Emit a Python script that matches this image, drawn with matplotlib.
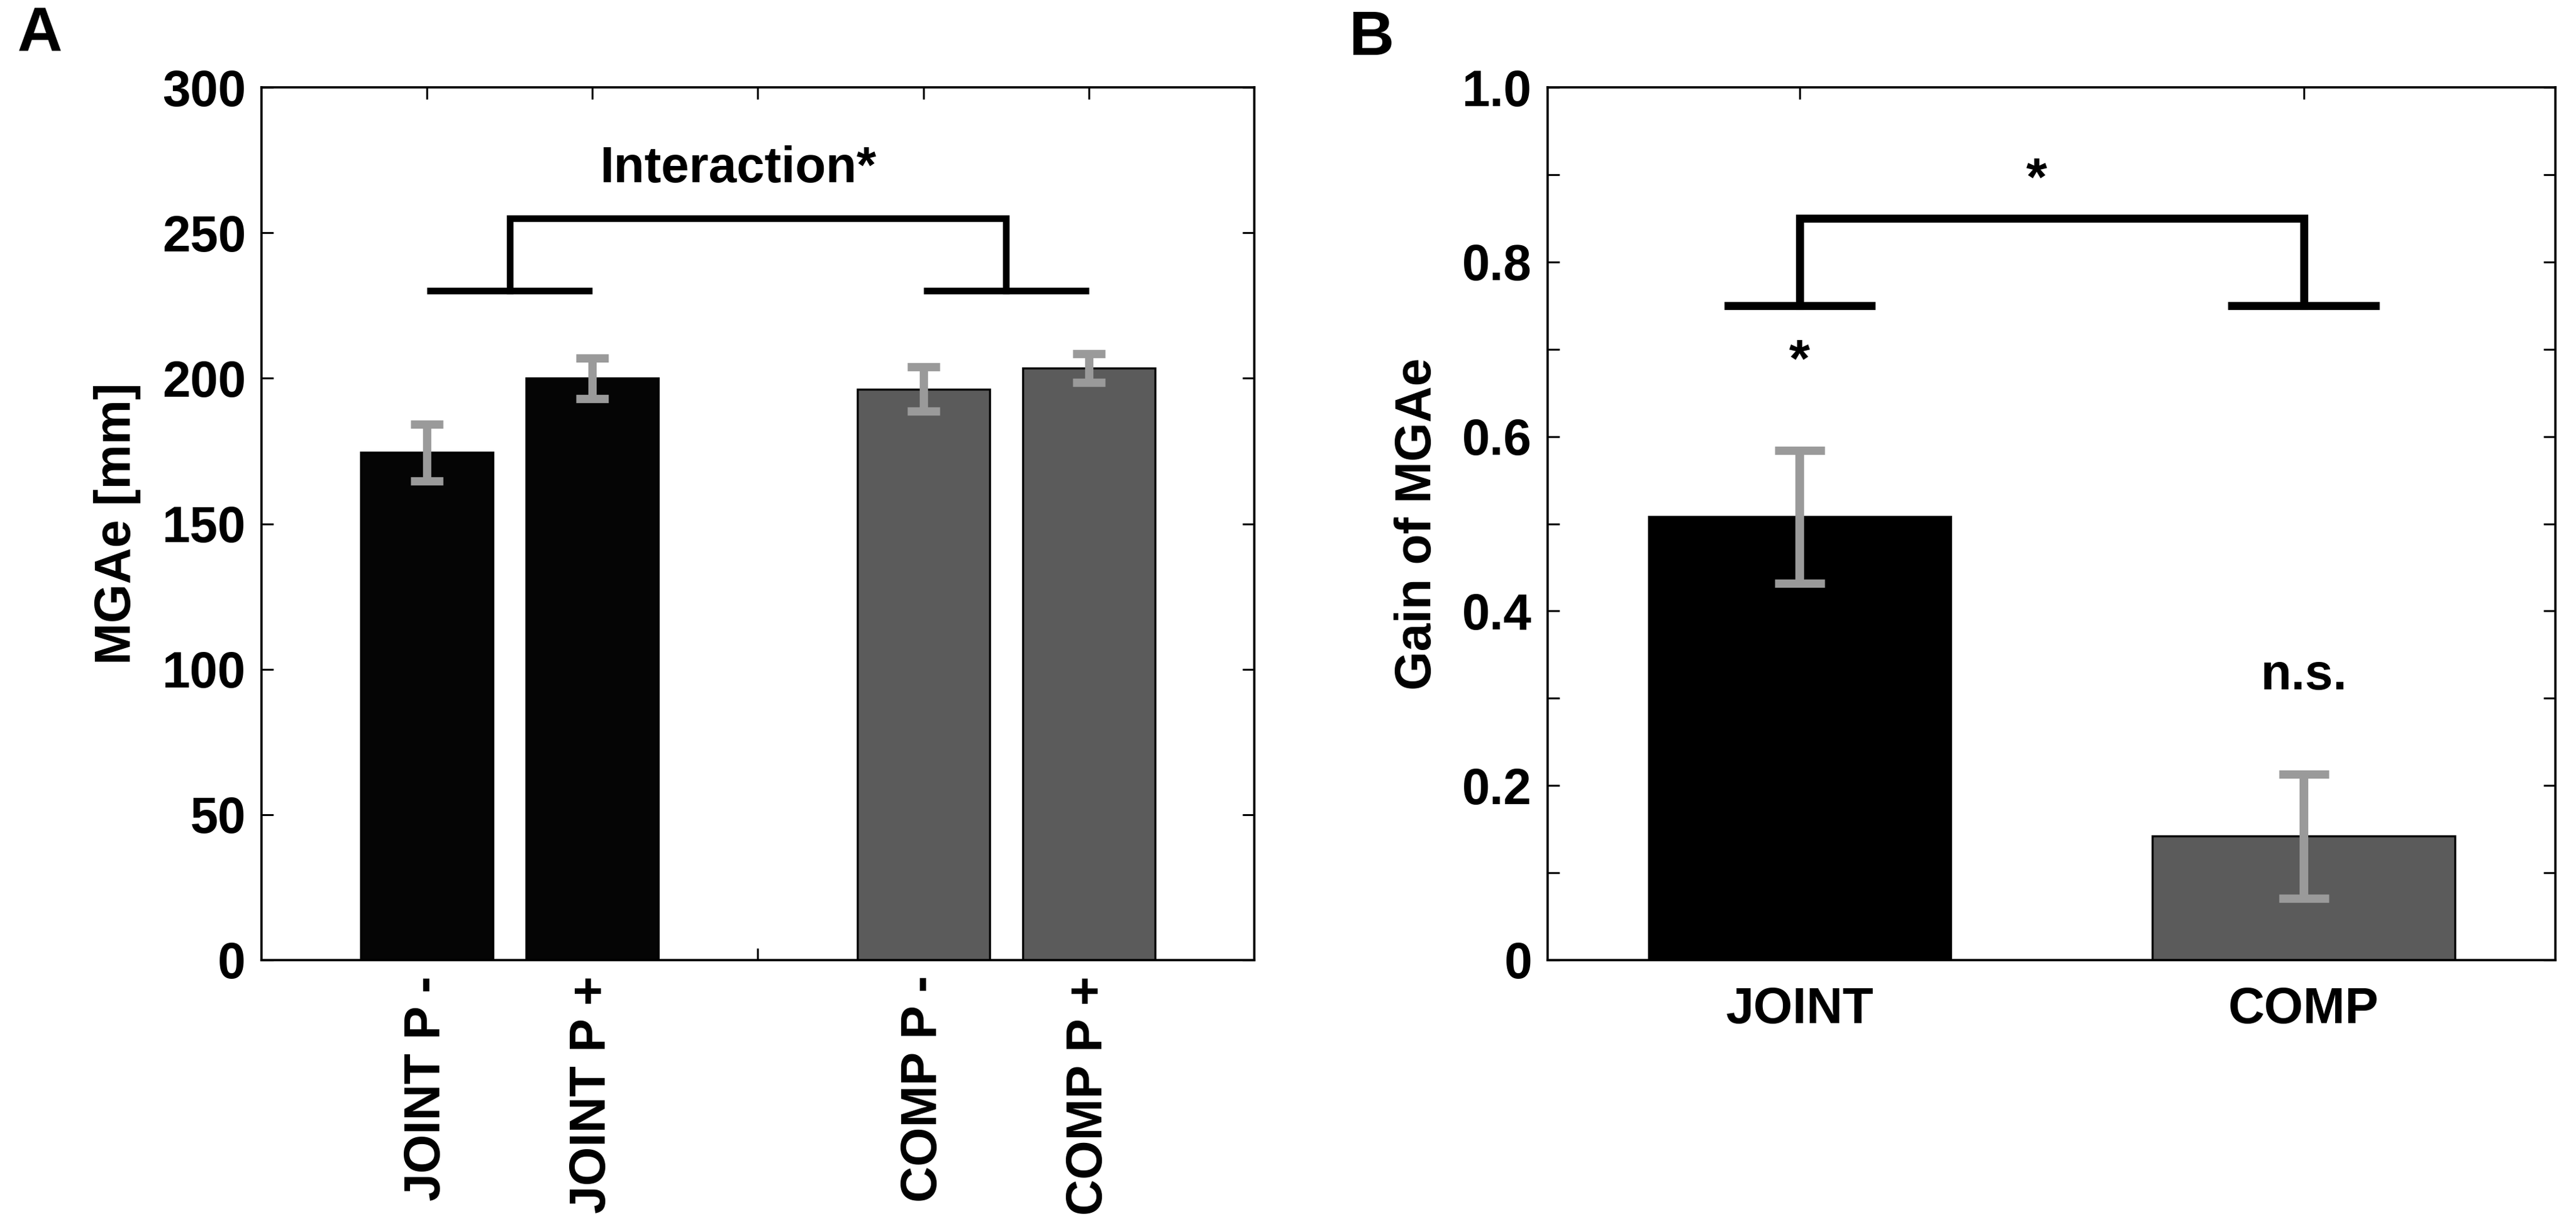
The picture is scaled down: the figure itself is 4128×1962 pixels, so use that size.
import numpy as np
import matplotlib
matplotlib.use("Agg")
from matplotlib import pyplot as plt

plt.rcParams['font.family'] = ['Liberation Sans', 'DejaVu Sans']
plt.rcParams['font.weight'] = 'bold'

# Panel A data
labels_a = ["JOINT P -", "JOINT P +", "COMP P -", "COMP P +"]
pos_a = [1, 2, 4, 5]
mgae = [174.5, 200.0, 196.3, 203.5]
mgae_err = [9.8, 7.0, 7.6, 4.9]
colors_a = ["#050505", "#050505", "#5b5b5b", "#5b5b5b"]

# Panel B data
labels_b = ["JOINT", "COMP"]
pos_b = [1, 2]
gain = [0.508, 0.142]
gain_err = [0.076, 0.071]
colors_b = ["#000000", "#5b5b5b"]

errcol = "#9a9a9a"
fs = 29

fig = plt.figure(figsize=(20.64, 9.81), dpi=200)
axA = fig.add_axes([0.1015, 0.2156, 0.3854, 0.713])
axB = fig.add_axes([0.6008, 0.2156, 0.3913, 0.713])

# --- A ---
axA.bar(pos_a, mgae, width=0.8, color=colors_a, edgecolor="black", linewidth=1.2, zorder=2)
axA.errorbar(pos_a, mgae, yerr=mgae_err, fmt="none", ecolor=errcol, elinewidth=4.8,
             capsize=9.5, capthick=4.8, zorder=3)
axA.set_xlim(0, 6)
axA.set_ylim(0, 300)
axA.set_yticks(np.arange(0, 301, 50))
axA.set_xticks([1, 2, 3, 4, 5])
axA.set_xticklabels(["JOINT P -", "JOINT P +", "", "COMP P -", "COMP P +"], rotation=90)
axA.set_ylabel("MGAe [mm]", fontsize=fs, fontweight="bold", labelpad=12)

# significance bracket
axA.plot([1, 2], [230, 230], color="black", lw=3.8, solid_capstyle="butt")
axA.plot([4, 5], [230, 230], color="black", lw=3.8, solid_capstyle="butt")
axA.plot([1.5, 1.5, 4.5, 4.5], [230, 255, 255, 230], color="black", lw=3.8,
         solid_joinstyle="miter")
axA.text(2.88, 272, "Interaction*", ha="center", va="center", fontsize=fs, fontweight="bold")

# --- B ---
axB.bar(pos_b, gain, width=0.6, color=colors_b, edgecolor="black", linewidth=1.2, zorder=2)
axB.errorbar(pos_b, gain, yerr=gain_err, fmt="none", ecolor=errcol, elinewidth=5,
             capsize=14.5, capthick=4.8, zorder=3)
axB.set_xlim(0.5, 2.5)
axB.set_ylim(0, 1.0)
axB.set_yticks(np.arange(0, 1.01, 0.1))
axB.set_yticklabels(["0", "", "0.2", "", "0.4", "", "0.6", "", "0.8", "", "1.0"])
axB.set_xticks(pos_b)
axB.set_xticklabels(labels_b)
axB.set_ylabel("Gain of MGAe", fontsize=fs, fontweight="bold", labelpad=12)

axB.plot([0.85, 1.15], [0.75, 0.75], color="black", lw=4.6, solid_capstyle="butt")
axB.plot([1.85, 2.15], [0.75, 0.75], color="black", lw=4.6, solid_capstyle="butt")
axB.plot([1, 1, 2, 2], [0.75, 0.85, 0.85, 0.75], color="black", lw=4.6,
         solid_joinstyle="miter")
axB.text(1.47, 0.893, "*", ha="center", va="center", fontsize=31, fontweight="bold")
axB.text(1.0, 0.685, "*", ha="center", va="center", fontsize=31, fontweight="bold")
axB.text(2.0, 0.325, "n.s.", ha="center", va="center", fontsize=fs, fontweight="bold")

for ax in (axA, axB):
    ax.tick_params(direction="in", length=7, width=1.1, top=True, right=True,
                   labelsize=fs, pad=9)
    for lab in ax.get_xticklabels() + ax.get_yticklabels():
        lab.set_fontweight("bold")
    for sp in ax.spines.values():
        sp.set_linewidth(1.3)
axB.tick_params(axis="x", pad=15)

fig.text(64 / 4128, 1 - 57 / 1962, "A", ha="center", va="center", fontsize=36, fontweight="bold")
fig.text(2197 / 4128, 1 - 62 / 1962, "B", ha="center", va="center", fontsize=36, fontweight="bold")

fig.savefig("out.png", dpi=200)
